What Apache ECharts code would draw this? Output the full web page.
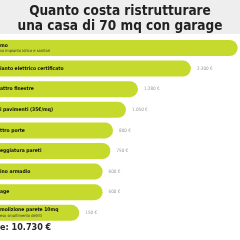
<!DOCTYPE html>
<html>
<head>
<meta charset="utf-8">
<script src="https://cdn.jsdelivr.net/npm/echarts@6/dist/echarts.min.js"></script>
<style>
  html, body { margin: 0; padding: 0; background: #ffffff; }
  #chart { width: 240px; height: 240px; }
</style>
</head>
<body>
<div id="chart"></div>
<script>
// voci (testo visibile, tagliato a sinistra come nell'originale)
const categories = [
  'mo', 'ianto elettrico certificato', 'attro finestre', 'i pavimenti (35€/mq)',
  'ttro porte', 'eggiatura pareti', 'ino armadio', 'age', 'molizione parete 10mq'
];
const notes = [
  'so impianto idrico e sanitari', '', '', '', '', '', '', '', 'eso smaltimento detriti'
];
const costs = [3200, 2300, 1280, 1050, 800, 750, 600, 600, 150];
const showValue = [false, true, true, true, true, true, true, true, true];

const lime = '#c5da2d';
const condensed = '"DejaVu Sans Condensed", "Liberation Sans Narrow", sans-serif';

const fmt = v => String(v).replace(/\B(?=(\d{3})+(?!\d))/g, '.') + ' €';
const total = costs.reduce((a, b) => a + b, 0);

const chart = echarts.init(document.getElementById('chart'), null, { renderer: 'canvas' });

chart.setOption({
  backgroundColor: '#ffffff',
  animation: false,
  graphic: [
    {
      type: 'rect', x: 0, y: 0, z: -10,
      shape: { width: 240, height: 34 },
      style: { fill: '#eeeeee' }
    },
    {
      type: 'text', x: 120, y: 4,
      style: {
        text: 'Quanto costa ristrutturare\nuna casa di 70 mq con garage',
        fontSize: 13.5, fontWeight: 'bold', fontFamily: condensed,
        fill: '#222222', textAlign: 'center', textVerticalAlign: 'top', lineHeight: 15
      }
    },
    {
      type: 'text', x: 0, y: 223,
      style: { text: 'e: ' + fmt(total), fontSize: 9, fontWeight: 'bold', fontFamily: condensed, fill: '#2a2a2a' }
    }
  ],
  grid: { left: -22, right: -8, top: 37.7, bottom: 16.9, outerBoundsMode: 'none', containLabel: false },
  xAxis: {
    type: 'value', min: -1800, max: 3400, startValue: -1800,
    show: false
  },
  yAxis: {
    type: 'category', inverse: true, data: categories, z: 10,
    axisLine: { show: false }, axisTick: { show: false }, splitLine: { show: false },
    axisLabel: {
      inside: true, margin: 22,
      formatter: (val, i) => notes[i] ? '{t|' + val + '}\n{s|' + notes[i] + '}' : '{t|' + val + '}',
      rich: {
        t: { fontSize: 5, fontWeight: 'bold', fontFamily: condensed, color: '#111111', lineHeight: 6.5 },
        s: { fontSize: 4, fontFamily: condensed, color: '#333333', lineHeight: 5.5 }
      }
    }
  },
  series: [{
    type: 'bar',
    data: costs,
    barWidth: 16,
    itemStyle: { color: lime, borderRadius: [0, 8, 8, 0] },
    label: {
      show: true, position: 'right', distance: 6,
      color: '#999999', fontSize: 4.6, fontFamily: condensed,
      formatter: p => showValue[p.dataIndex] ? fmt(p.value) : ''
    }
  }]
});
</script>
</body>
</html>
